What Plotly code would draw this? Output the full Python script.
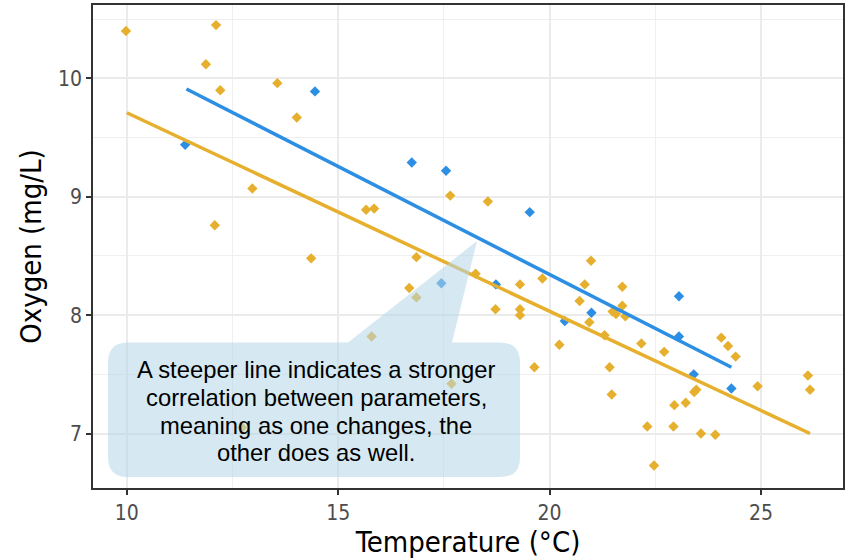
import plotly.graph_objects as go

# ---- data ----
blue_temp = [11.38, 14.45, 16.74, 17.55, 19.53, 17.44, 18.73, 20.36, 20.99, 23.06, 23.06, 23.41, 24.30]
blue_oxy = [9.44, 9.89, 9.29, 9.22, 8.87, 8.27, 8.26, 7.95, 8.02, 8.16, 7.82, 7.50, 7.38]

orange_temp = [9.98, 12.11, 11.87, 12.21, 13.56, 14.02, 12.97, 12.08, 15.66, 15.85, 17.65, 18.54,
               14.36, 12.73, 16.85, 16.68, 16.85, 15.79, 18.25, 19.30, 19.83, 18.72, 19.30, 19.30,
               20.23, 19.64, 17.68, 20.71, 20.98, 20.83, 20.94, 21.72, 21.72, 21.49, 21.57, 21.79,
               21.30, 22.17, 22.71, 21.42, 21.47, 24.06, 24.22, 24.40, 23.42, 23.47, 22.95, 23.22,
               22.31, 22.93, 23.58, 23.92, 22.47, 24.92, 26.11, 26.16]
orange_oxy = [10.40, 10.45, 10.12, 9.90, 9.96, 9.67, 9.07, 8.76, 8.89, 8.90, 9.01, 8.96,
              8.48, 7.05, 8.49, 8.23, 8.15, 7.82, 8.35, 8.26, 8.31, 8.05, 8.05, 8.00,
              7.75, 7.56, 7.42, 8.12, 8.46, 8.26, 7.94, 8.24, 8.08, 8.03, 8.01, 7.99,
              7.83, 7.76, 7.69, 7.56, 7.33, 7.81, 7.74, 7.65, 7.35, 7.37, 7.24, 7.26,
              7.06, 7.06, 7.00, 6.99, 6.73, 7.40, 7.49, 7.37]

blue_fit_temp = [11.41, 24.30]
blue_fit_oxy = [9.91, 7.56]
orange_fit_temp = [10.0, 26.16]
orange_fit_oxy = [9.71, 7.00]

x_ticks = [10, 15, 20, 25]
y_ticks = [7, 8, 9, 10]

callout_lines = ["A steeper line indicates a stronger",
                 "correlation between parameters,",
                 "meaning as one changes, the",
                 "other does as well."]

BLUE = "#2D8FE3"
ORANGE = "#E6B02E"

W, H = 850, 560
ML, MR, MT, MB = 93, 7, 3, 72
PW, PH = W - ML - MR, H - MT - MB


def px2paper(px, py):
    return (px - ML) / PW, (H - MB - py) / PH


fig = go.Figure()
fig.add_trace(go.Scatter(x=orange_temp, y=orange_oxy, mode="markers",
                         marker=dict(symbol="diamond", size=8, color=ORANGE), showlegend=False))
fig.add_trace(go.Scatter(x=blue_temp, y=blue_oxy, mode="markers",
                         marker=dict(symbol="diamond", size=8, color=BLUE), showlegend=False))
fig.add_trace(go.Scatter(x=orange_fit_temp, y=orange_fit_oxy, mode="lines",
                         line=dict(color=ORANGE, width=3.5), showlegend=False))
fig.add_trace(go.Scatter(x=blue_fit_temp, y=blue_fit_oxy, mode="lines",
                         line=dict(color=BLUE, width=3.5), showlegend=False))

# callout shape (rounded box + tail) in pixel layout converted to paper coords
L, R, T, B, r = 108, 520, 342, 477, 20
tail = [(348, T), (477, 240), (452, T)]


def P(x, y):
    a, b = px2paper(x, y)
    return f"{a:.5f},{b:.5f}"


path = (f"M {P(L + r, T)} L {P(*tail[0])} L {P(*tail[1])} L {P(*tail[2])} "
        f"L {P(R - r, T)} Q {P(R, T)} {P(R, T + r)} L {P(R, B - r)} Q {P(R, B)} {P(R - r, B)} "
        f"L {P(L + r, B)} Q {P(L, B)} {P(L, B - r)} L {P(L, T + r)} Q {P(L, T)} {P(L + r, T)} Z")
fig.add_shape(type="path", path=path, xref="paper", yref="paper",
              fillcolor="rgba(180,215,232,0.55)", line=dict(width=0), layer="above")

line_centers = [369, 397, 425, 452]
for txt, cy in zip(callout_lines, line_centers):
    ax, ay = px2paper(316, cy)
    fig.add_annotation(text=txt, x=ax, y=ay, xref="paper", yref="paper",
                       xanchor="center", yanchor="middle", showarrow=False,
                       font=dict(family="Liberation Sans, Arial, sans-serif", size=23.8, color="black"))

axis_font = "Liberation Sans Narrow, Arial Narrow, DejaVu Sans Condensed, Liberation Sans, Arial"
common = dict(showline=True, mirror=True, linecolor="#333333", linewidth=1.5,
              ticks="outside", ticklen=5, tickwidth=1.5, tickcolor="#333333",
              showgrid=True, gridcolor="#EBEBEB", gridwidth=1.6, zeroline=False,
              tickfont=dict(family=axis_font, size=21, color="#4D4D4D"))

fig.update_xaxes(range=[9.20, 26.94], tickvals=x_ticks, ticktext=[str(v) for v in x_ticks],
                 minor=dict(tickvals=[12.5, 17.5, 22.5], showgrid=True, gridcolor="#EFEFEF", gridwidth=1, ticks=""),
                 title=dict(text="Temperature (°C)", font=dict(family=axis_font, size=29, color="black"), standoff=6),
                 **common)
fig.update_yaxes(range=[6.54, 10.62], tickvals=y_ticks, ticktext=[str(v) for v in y_ticks],
                 minor=dict(tickvals=[6.5, 7.5, 8.5, 9.5, 10.5], showgrid=True, gridcolor="#EFEFEF", gridwidth=1, ticks=""),
                 title=dict(text="Oxygen (mg/L)", font=dict(family=axis_font, size=29, color="black"), standoff=8),
                 **common)

fig.update_layout(width=W, height=H, margin=dict(l=ML, r=MR, t=MT, b=MB),
                  plot_bgcolor="white", paper_bgcolor="white")

fig.write_html("out.html")
